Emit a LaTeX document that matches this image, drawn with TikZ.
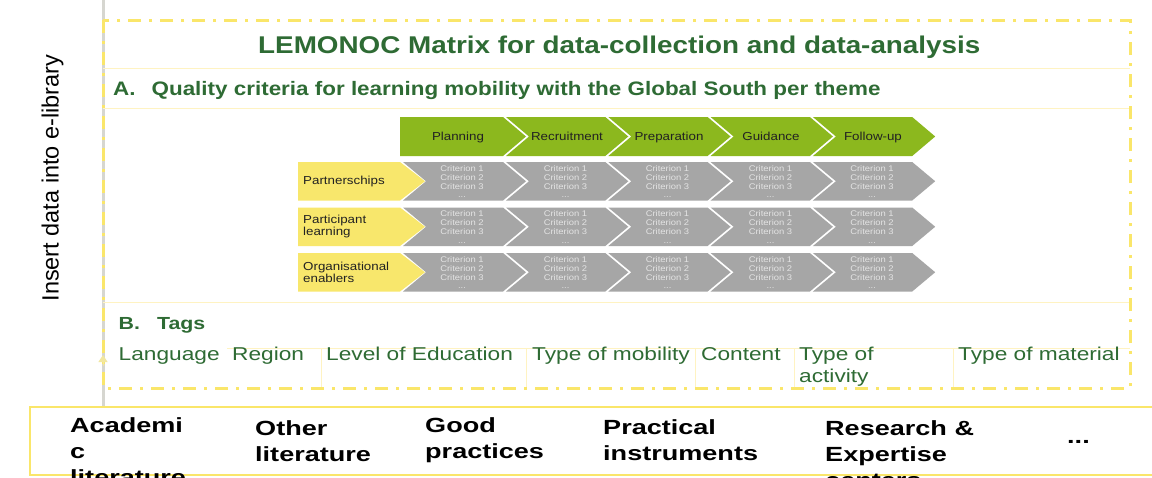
\documentclass[tikz,border=0pt]{standalone}
\usepackage{fontspec}
\setmainfont{Liberation Sans}
\newfontfamily\fT[FakeStretch=1.15]{Liberation Sans}
\newfontfamily\fG[FakeStretch=1.22]{Liberation Sans}
\newfontfamily\fB[FakeStretch=1.32]{Liberation Sans}
\usetikzlibrary{arrows.meta}
\definecolor{dkgreen}{HTML}{2E6B34}
\definecolor{tagyellow}{HTML}{FAE66A}
\definecolor{paleline}{HTML}{FFF3C2}
\definecolor{chevgreen}{HTML}{8CB81E}
\definecolor{chevgrey}{HTML}{A6A6A6}
\definecolor{chevyellow}{HTML}{F8E76C}
\definecolor{crittext}{HTML}{E4E4E4}
\definecolor{labtext}{HTML}{222222}
\definecolor{arrowgrey}{HTML}{D6D6D0}
\definecolor{tipyellow}{HTML}{F2E7A0}
\begin{document}
\begin{tikzpicture}[x=1pt,y=-1pt,
  dashbox/.style={draw=tagyellow, line width=3pt, dash pattern=on 13pt off 8pt on 3pt off 8pt},
  thinrule/.style={draw=paleline, line width=0.8pt},
  ttl/.style={font=\fT\fontsize{24.2}{29}\selectfont\bfseries, text=dkgreen, inner sep=0pt, anchor=base west},
  heada/.style={font=\fT\fontsize{19.5}{23}\selectfont\bfseries, text=dkgreen, inner sep=0pt, anchor=base west},
  headb/.style={font=\fG\fontsize{17.5}{21}\selectfont\bfseries, text=dkgreen, inner sep=0pt, anchor=base west},
  tagtxt/.style={font=\fG\fontsize{18.6}{21.7}\selectfont, text=dkgreen, inner sep=0pt, anchor=base west},
  phase/.style={font=\fT\fontsize{11.6}{13}\selectfont, text=labtext, inner sep=0pt, anchor=base},
  theme/.style={font=\fT\fontsize{11.6}{12}\selectfont, text=labtext, inner sep=0pt, anchor=west, align=left},
  crit/.style={font=\fT\fontsize{8.2}{8.8}\selectfont, text=crittext, inner sep=0pt, anchor=north, align=center},
  source/.style={font=\fB\fontsize{20.5}{26}\selectfont\bfseries, text=black, inner sep=0pt, anchor=north west, align=left},
  side/.style={font=\fontsize{23.5}{28}\selectfont, text=black, inner sep=0pt, rotate=90}
]
\useasboundingbox (0,0) rectangle (1152,477);
\clip (0,0) rectangle (1152,477);
\fill[white] (0,0) rectangle (1152,477);

% connector: from sources up into the e-library
\coordinate (srcTop) at (103,407);
\coordinate (libTop) at (103,0);
\coordinate (tipBase) at (103,366);
\coordinate (tipPt) at (103,355);
\draw[arrowgrey, line width=3pt] (srcTop) -- (libTop);

% thin table rules
\draw[thinrule] (103,68) -- (1130,68);
\draw[thinrule] (103,108) -- (1130,108);
\draw[thinrule] (103,302) -- (1130,302);
\draw[thinrule] (227,348) -- (1130,348);
\foreach \vx in {321,526,695,794,953}{
  \draw[thinrule] (\vx,348) -- (\vx,388);
}

% dash-dot frame
\draw[dashbox] (103,20) rectangle (1130,388);
\draw[tipyellow, line width=1pt, -{Triangle[width=9pt,length=7pt]}] (tipBase) -- (tipPt);

% side label
\node[side] (sidelab) at (52.5,178) {Insert data into e-library};

% title and headings
\node[ttl] (title) at (258,53.3) {LEMONOC Matrix for data-collection and data-analysis};
\node[heada] (secA) at (113,95.7) {A.\hspace{16pt}Quality criteria for learning mobility with the Global South per theme};
\node[headb] (secB) at (118.5,329) {B.\hspace{17pt}Tags};

% phase chevrons (green)
\foreach \i/\lab/\lx in {0/Planning/458,1/Recruitment/567,2/Preparation/669,3/Guidance/771,4/Follow-up/873}{
  \pgfmathsetmacro{\R}{503+102.3*\i}
  \pgfmathsetmacro{\L}{503+102.3*(\i-1)+3}
  \ifnum\i=0
    \fill[chevgreen] (400,117) -- (\R,117) -- (\R+23,136.5) -- (\R,156) -- (400,156) -- cycle;
  \else
    \fill[chevgreen] (\L,117) -- (\R,117) -- (\R+23,136.5) -- (\R,156) -- (\L,156) -- (\L+23,136.5) -- cycle;
  \fi
  \node[phase] (ph\i) at (\lx,140.6) {\lab};
}

% theme rows
\foreach \r/\top/\lab in {1/162/Partnerschips,2/207.5/Participant\\learning,3/253/Organisational\\enablers}{
  \pgfmathsetmacro{\bot}{\top+38.5}
  \pgfmathsetmacro{\mid}{\top+19.25}
  \fill[chevyellow] (298,\top) -- (400,\top) -- (425,\mid) -- (400,\bot) -- (298,\bot) -- cycle;
  \node[theme] (th\r) at (303,\mid) {\lab};
  \foreach \i/\cx in {0/462,1/565.5,2/667.5,3/770.5,4/872}{
    \pgfmathsetmacro{\R}{503+102.3*\i}
    \pgfmathsetmacro{\L}{\i==0 ? 403 : 503+102.3*(\i-1)+3}
    \fill[chevgrey] (\L,\top) -- (\R,\top) -- (\R+23,\mid) -- (\R,\bot) -- (\L,\bot) -- (\L+23,\mid) -- cycle;
    \node[crit] (cr\r\i) at (\cx,\top+3.3) {Criterion 1\\Criterion 2\\Criterion 3\\...};
  }
}

% tags
\node[tagtxt] (tLang) at (118.5,360.7) {Language};
\node[tagtxt] (tReg) at (232,360.7) {Region};
\node[tagtxt] (tLev) at (326,360.7) {Level of Education};
\node[tagtxt] (tMob) at (532,360.7) {Type of mobility};
\node[tagtxt] (tCon) at (701,360.7) {Content};
\node[tagtxt, anchor=north west, align=left] (tAct) at (799,347) {Type of\\activity};
\node[tagtxt] (tMat) at (958,360.7) {Type of material};

% sources box
\draw[tagyellow, line width=2.7pt] (30,407) rectangle (1170,475);
\node[source] (sAca) at (70,417) {Academi\\c\\literature};
\node[source] (sOth) at (255,420) {Other\\literature};
\node[source] (sGood) at (425,417) {Good\\practices};
\node[source] (sPrac) at (603,419) {Practical\\instruments};
\node[source] (sRes) at (825,420) {Research \&\\Expertise\\centers};
\node[source, anchor=base west] (sMore) at (1067,443) {...};
\end{tikzpicture}
\end{document}
